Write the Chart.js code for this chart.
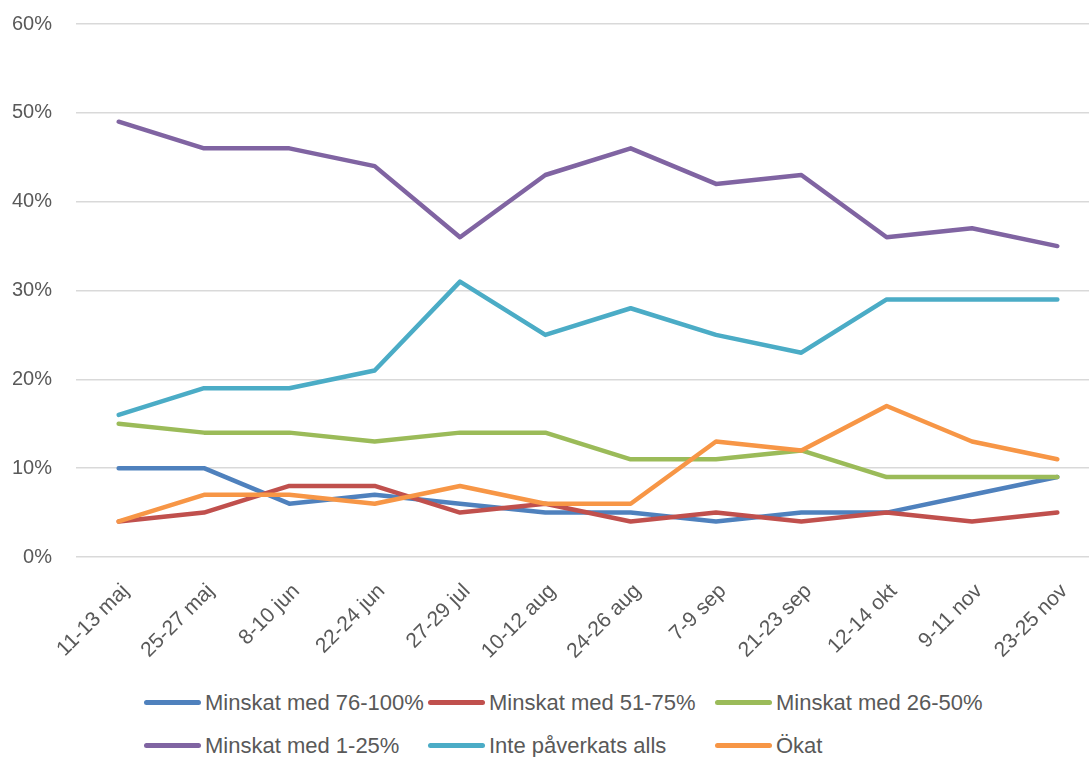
<!DOCTYPE html>
<html lang="sv">
<head>
<meta charset="UTF-8">
<title>Linjediagram</title>
<script src="https://cdn.jsdelivr.net/npm/chart.js"></script>
<style>
    body { margin: 0; background: #fff; overflow: hidden; width: 1089px; height: 757px; font-family: "Liberation Sans", Arial, sans-serif; }
    .wrap { position: absolute; left: 0; top: -12px; width: 1100px; height: 692px; }
    #legend { position: absolute; left: 144px; top: 691px; width: 900px; display: grid; grid-template-columns: 284px 287px 287px; row-gap: 20px; }
    .item { display: flex; align-items: center; height: 23px; color: #595959; font-size: 22px; white-space: nowrap; }
    .swatch { width: 57px; height: 5.5px; border-radius: 3px; margin-right: 4px; }
</style>
</head>
<body>
<div class="wrap"><canvas id="grafik" width="1100" height="692"></canvas></div>
<div id="legend"></div>

<script>
    // datum för mätningarna
    const kategorier = ['11-13 maj', '25-27 maj', '8-10 jun', '22-24 jun', '27-29 jul', '10-12 aug',
        '24-26 aug', '7-9 sep', '21-23 sep', '12-14 okt', '9-11 nov', '23-25 nov'];

    const minskat76_100 = [10, 10, 6, 7, 6, 5, 5, 4, 5, 5, 7, 9];
    const minskat51_75 = [4, 5, 8, 8, 5, 6, 4, 5, 4, 5, 4, 5];
    const minskat26_50 = [15, 14, 14, 13, 14, 14, 11, 11, 12, 9, 9, 9];
    const minskat1_25 = [49, 46, 46, 44, 36, 43, 46, 42, 43, 36, 37, 35];
    const intePaverkats = [16, 19, 19, 21, 31, 25, 28, 25, 23, 29, 29, 29];
    const okat = [4, 7, 7, 6, 8, 6, 6, 13, 12, 17, 13, 11];

    const yTicks = [0, 10, 20, 30, 40, 50, 60];

    const serier = [
        { namn: 'Minskat med 76-100%', data: minskat76_100, farg: '#4F81BD' },
        { namn: 'Minskat med 51-75%', data: minskat51_75, farg: '#C0504D' },
        { namn: 'Minskat med 26-50%', data: minskat26_50, farg: '#9BBB59' },
        { namn: 'Minskat med 1-25%', data: minskat1_25, farg: '#8064A2' },
        { namn: 'Inte påverkats alls', data: intePaverkats, farg: '#4BACC6' },
        { namn: 'Ökat', data: okat, farg: '#F79646' }
    ];

    const dados = {
        labels: kategorier,
        datasets: serier.map(function (s, i) {
            return {
                label: s.namn,
                data: s.data,
                borderColor: s.farg,
                backgroundColor: s.farg,
                borderWidth: 4.5,
                borderCapStyle: 'round',
                borderJoinStyle: 'round',
                pointRadius: 0,
                tension: 0,
                fill: false,
                order: serier.length - i // sista serien ritas överst, som i Excel
            };
        })
    };

    const config = {
        type: 'line',
        data: dados,
        options: {
            responsive: false,
            animation: false,
            layout: { padding: { top: 12, right: 0, bottom: 0, left: 0 } },
            plugins: {
                legend: { display: false },
                tooltip: { enabled: false }
            },
            scales: {
                x: {
                    offset: true,
                    grid: { display: false, drawTicks: false },
                    border: { display: false },
                    ticks: {
                        color: '#595959',
                        font: { family: 'Liberation Sans', size: 21 },
                        minRotation: 45,
                        maxRotation: 45,
                        autoSkip: false,
                        padding: 22,
                        labelOffset: 7
                    },
                    afterFit: function (s) { s.height = 123; }
                },
                y: {
                    min: 0,
                    max: 60,
                    afterBuildTicks: function (s) {
                        s.ticks = yTicks.map(function (v) { return { value: v }; });
                    },
                    grid: { color: '#D9D9D9', lineWidth: 1.5, drawTicks: false },
                    border: { display: false },
                    ticks: {
                        color: '#595959',
                        font: { family: 'Liberation Sans', size: 20 },
                        padding: 24,
                        callback: function (v) { return v + '%'; }
                    },
                    afterFit: function (s) { s.width = 76; }
                }
            }
        }
    };

    let myChart = new Chart(document.getElementById('grafik'), config);

    // förklaring i tre kolumner, byggd från datamängderna
    const legend = document.getElementById('legend');
    myChart.data.datasets.forEach(function (ds) {
        const item = document.createElement('div');
        item.className = 'item';
        item.innerHTML = '<span class="swatch" style="background:' + ds.borderColor + '"></span>' + ds.label;
        legend.appendChild(item);
    });
</script>
</body>
</html>
